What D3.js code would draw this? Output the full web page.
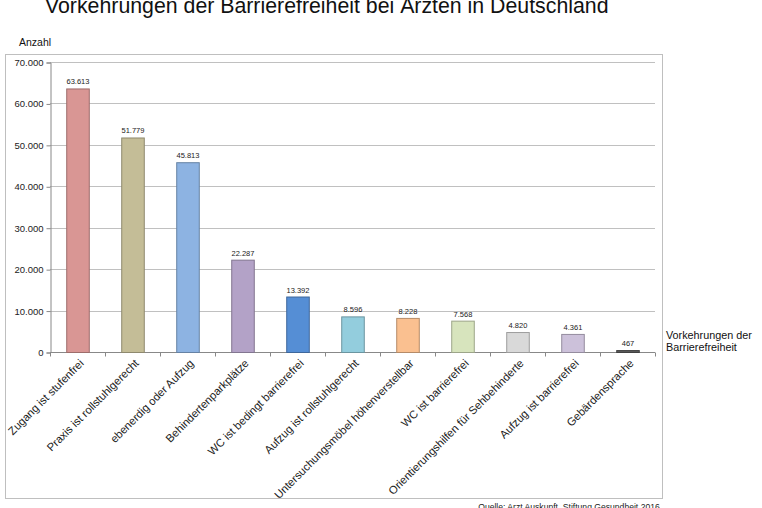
<!DOCTYPE html>
<html>
<head>
<meta charset="utf-8">
<script src="https://cdn.jsdelivr.net/npm/d3@7"></script>
<style>
  body { margin: 0; background: #fff; }
  text { font-family: "Liberation Sans", Arial, sans-serif; }
</style>
</head>
<body>
<div id="chart"></div>
<script>
// data
var categories = ["Zugang ist stufenfrei", "Praxis ist rollstuhlgerecht", "ebenerdig oder Aufzug",
  "Behindertenparkplätze", "WC ist bedingt barrierefrei", "Aufzug ist rollstuhlgerecht",
  "Untersuchungsmöbel höhenverstellbar", "WC ist barrierefrei", "Orientierungshilfen für Sehbehinderte",
  "Aufzug ist barrierefrei", "Gebärdensprache"];
var values = [63613, 51779, 45813, 22287, 13392, 8596, 8228, 7568, 4820, 4361, 467];
var barColors = ["#d99694", "#c4bd97", "#8db3e2", "#b3a2c7", "#558ed5", "#93cddd",
  "#fac090", "#d7e4bd", "#d9d9d9", "#ccc1da", "#595959"];
var yTicks = [0, 10000, 20000, 30000, 40000, 50000, 60000, 70000];

var W = 762, H = 508;
var plotLeft = 50, plotRight = 655, plotTop = 62, plotBottom = 352;

var svg = d3.select("#chart").append("svg")
    .attr("width", W).attr("height", H);

// outer frame
svg.append("rect")
    .attr("x", 5.5).attr("y", 54.5).attr("width", 657).attr("height", 444)
    .attr("fill", "none").attr("stroke", "#bfbfbf");

var fmt = d3.formatLocale({decimal: ",", thousands: ".", grouping: [3], currency: ["", "€"]}).format(",d");

var x = d3.scaleBand().domain(categories).range([plotLeft, plotRight]).paddingInner(0.59).paddingOuter(0.295);
var y = d3.scaleLinear().domain([0, 70000]).range([plotBottom, plotTop]);

// gridlines
svg.append("g").selectAll("line").data(yTicks.slice(1)).enter().append("line")
    .attr("x1", plotLeft).attr("x2", plotRight)
    .attr("y1", function(d){ return Math.round(y(d)) + 0.5; })
    .attr("y2", function(d){ return Math.round(y(d)) + 0.5; })
    .attr("stroke", "#c0c0c0");

// y axis
var yAxis = svg.append("g").attr("transform", "translate(" + (plotLeft + 0.5) + ",0.5)")
    .call(d3.axisLeft(y).tickValues(yTicks).tickFormat(fmt).tickSize(4).tickPadding(3));
yAxis.select(".domain").attr("stroke", "#888");
yAxis.selectAll(".tick line").attr("stroke", "#888");
yAxis.selectAll("text").attr("font-size", "9.5px").attr("fill", "#222")
    .style("font-family", "'Liberation Sans', Arial, sans-serif");

// x axis: ticks at category boundaries
var xb = d3.scaleLinear().domain([0, categories.length]).range([plotLeft, plotRight]);
var xAxis = svg.append("g").attr("transform", "translate(0," + (plotBottom + 0.5) + ")");
xAxis.append("line").attr("x1", plotLeft).attr("x2", plotRight).attr("stroke", "#888");
xAxis.selectAll(".bt").data(d3.range(categories.length + 1)).enter().append("line")
    .attr("x1", function(d){ return Math.round(xb(d)) + 0.5; })
    .attr("x2", function(d){ return Math.round(xb(d)) + 0.5; })
    .attr("y1", 0).attr("y2", 4).attr("stroke", "#888");

// bars
svg.append("g").selectAll("rect").data(values).enter().append("rect")
    .attr("x", function(d, i){ return x(categories[i]) + 0.5; })
    .attr("y", function(d){ return y(d) + 0.5; })
    .attr("width", x.bandwidth())
    .attr("height", function(d){ return plotBottom - y(d); })
    .attr("fill", function(d, i){ return barColors[i]; })
    .attr("stroke", function(d, i){ return d3.color(barColors[i]).darker(0.9); })
    .attr("stroke-width", 1);

// value labels
svg.append("g").selectAll("text").data(values).enter().append("text")
    .attr("x", function(d, i){ return x(categories[i]) + x.bandwidth() / 2 + 0.5; })
    .attr("y", function(d){ return y(d) - 4; })
    .attr("text-anchor", "middle")
    .attr("font-size", "7.5px").attr("fill", "#222")
    .text(function(d){ return fmt(d); });

// category labels
svg.append("g").selectAll("text").data(categories).enter().append("text")
    .attr("transform", function(d){
      var cx = x(d) + x.bandwidth() / 2 + 7;
      return "translate(" + cx + "," + (plotBottom + 12) + ") rotate(-45)";
    })
    .attr("text-anchor", "end")
    .attr("font-size", "11.2px").attr("fill", "#222")
    .text(function(d){ return d; });

// titles
svg.append("text").attr("x", 45).attr("y", 13)
    .attr("font-size", "21.3px").attr("fill", "#111")
    .text("Vorkehrungen der Barrierefreiheit bei Ärzten in Deutschland");
svg.append("text").attr("x", 19).attr("y", 46)
    .attr("font-size", "10.5px").attr("fill", "#111").text("Anzahl");
svg.append("text").attr("x", 666).attr("y", 339)
    .attr("font-size", "10.8px").attr("fill", "#111").text("Vorkehrungen der");
svg.append("text").attr("x", 666).attr("y", 351)
    .attr("font-size", "10.8px").attr("fill", "#111").text("Barrierefreiheit");
svg.append("text").attr("x", 569).attr("y", 510)
    .attr("text-anchor", "middle")
    .attr("font-size", "8.6px").attr("fill", "#222")
    .text("Quelle: Arzt Auskunft, Stiftung Gesundheit 2016");
</script>
</body>
</html>
